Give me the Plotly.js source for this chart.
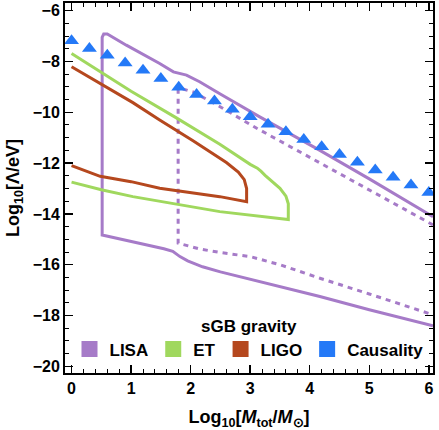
<!DOCTYPE html>
<html>
<head>
<meta charset="utf-8">
<script src="https://cdn.plot.ly/plotly-3.0.1.min.js"></script>
<style>
  html, body { margin: 0; padding: 0; background: white; }
  #chart { width: 439px; height: 430px; }
</style>
</head>
<body>
<div id="chart"></div>
<script>
// LISA, solid bound (lower branch -> vertical -> upper branch)
let lisa_x = [6.07, 5.0, 4.17, 3.5, 3.05, 2.5, 2.2, 1.95, 1.82, 1.7, 1.55, 1.0, 0.514, 0.514, 0.54, 0.6, 0.92, 1.48, 1.71, 1.93, 2.15, 2.49, 3.16, 4.17, 5.0, 6.07];
let lisa_y = [-18.40, -17.77, -17.25, -16.87, -16.62, -16.28, -16.08, -15.85, -15.68, -15.47, -15.37, -15.08, -14.83, -7.05, -6.92, -6.92, -7.36, -8.08, -8.41, -8.54, -8.80, -9.27, -10.18, -11.50, -12.62, -14.11];

// LISA, dashed bound
let lisaDash_x = [6.07, 5.0, 4.17, 3.11, 2.45, 2.04, 1.85, 1.79, 1.79, 2.15, 2.5, 3.0, 3.5, 4.17, 5.0, 6.07];
let lisaDash_y = [-14.43, -13.06, -11.99, -10.63, -9.72, -9.20, -9.07, -9.06, -15.15, -15.38, -15.52, -15.68, -16.0, -16.53, -17.15, -17.97];

// ET
let et_x = [0.0, 1.0, 1.76, 2.49, 3.0, 3.12, 3.18, 3.25, 3.5, 3.6, 3.64, 3.64, 2.49, 1.48, 1.03, 0.5, 0.0];
let et_y = [-7.69, -9.17, -10.22, -11.26, -12.05, -12.2, -12.32, -12.48, -12.99, -13.3, -13.6, -14.22, -13.91, -13.49, -13.32, -13.05, -12.75];

// LIGO
let ligo_x = [0.0, 1.03, 1.48, 2.04, 2.6, 2.8, 2.9, 2.94, 2.94, 2.49, 1.48, 1.1, 1.0, 0.48, 0.0];
let ligo_y = [-8.21, -9.62, -10.30, -11.12, -11.98, -12.35, -12.65, -13.0, -13.52, -13.32, -12.99, -12.80, -12.73, -12.52, -12.10];

// Causality
let caus_x = [0, 0.3, 0.6, 0.9, 1.2, 1.5, 1.8, 2.1, 2.4, 2.7, 3.0, 3.3, 3.6, 3.9, 4.2, 4.5, 4.8, 5.1, 5.4, 5.7, 6.0];
let caus_y = [-7.19, -7.49, -7.76, -8.06, -8.35, -8.67, -9.02, -9.30, -9.56, -9.88, -10.18, -10.47, -10.77, -11.07, -11.36, -11.66, -11.97, -12.27, -12.56, -12.86, -13.16];

let names = ['LISA', 'ET', 'LIGO', 'Causality'];
let colors = ['#a67bc8', '#a0d85e', '#b5481e', '#2479f7'];

let traces = [
    {x: lisa_x, y: lisa_y, mode: 'lines', line: {color: colors[0], width: 3}, showlegend: false},
    {x: lisaDash_x, y: lisaDash_y, mode: 'lines', line: {color: colors[0], width: 3, dash: '5px,5px'}, showlegend: false},
    {x: et_x, y: et_y, mode: 'lines', line: {color: colors[1], width: 3}, showlegend: false},
    {x: ligo_x, y: ligo_y, mode: 'lines', line: {color: colors[2], width: 3}, showlegend: false},
    {x: caus_x, y: caus_y, mode: 'markers', marker: {symbol: 'triangle-up', size: 13, color: colors[3]}, showlegend: false}
];

// square swatches for the legend
for (let i = 0; i < names.length; i++) {
    traces.push({
        x: [null], y: [null], mode: 'markers', name: names[i],
        marker: {symbol: 'square', size: 16, color: colors[i], line: {width: 0}}
    });
}

let font = {family: 'Liberation Sans, Arial, sans-serif', size: 16, color: 'black', weight: 'bold'};

let layout = {
    width: 439,
    height: 430,
    margin: {l: 65, r: 6, t: 3, b: 57},
    paper_bgcolor: 'white',
    plot_bgcolor: 'white',
    font: font,
    showlegend: true,
    legend: {
        orientation: 'h',
        x: 0.5, xanchor: 'center',
        y: 0.015, yanchor: 'bottom',
        bgcolor: 'rgba(0,0,0,0)',
        font: {family: font.family, size: 17, color: 'black', weight: 'bold'},
        title: {text: 'sGB gravity', side: 'top center', font: {family: font.family, size: 17, color: 'black', weight: 'bold'}},
        itemwidth: 30,
        tracegroupgap: 0
    },
    xaxis: {
        range: [-0.11, 6.07],
        tickvals: [0, 1, 2, 3, 4, 5, 6],
        ticks: 'inside', ticklen: 8, tickwidth: 1.5, tickcolor: 'black',
        minor: {dtick: 0.2, ticks: 'inside', ticklen: 4, tickwidth: 1, tickcolor: 'black'},
        showline: true, linecolor: 'black', linewidth: 2, mirror: 'ticks',
        showgrid: false, zeroline: false,
        tickfont: {size: 16},
        title: {text: 'Log<sub>10</sub>[<i>M</i><sub>tot</sub>/<i>M</i><sub>⊙</sub>]', font: {size: 18}, standoff: 14}
    },
    yaxis: {
        range: [-20.26, -5.7],
        tickvals: [-20, -18, -16, -14, -12, -10, -8, -6],
        ticktext: ['−20', '−18', '−16', '−14', '−12', '−10', '−8', '−6'],
        ticks: 'inside', ticklen: 8, tickwidth: 1.5, tickcolor: 'black',
        minor: {dtick: 0.5, ticks: 'inside', ticklen: 4, tickwidth: 1, tickcolor: 'black'},
        showline: true, linecolor: 'black', linewidth: 2, mirror: 'ticks',
        showgrid: false, zeroline: false,
        tickfont: {size: 16},
        title: {text: 'Log<sub>10</sub>[Λ/eV]', font: {size: 18}, standoff: 8}
    }
};

Plotly.newPlot('chart', traces, layout, {displayModeBar: false, staticPlot: true});
</script>
</body>
</html>
